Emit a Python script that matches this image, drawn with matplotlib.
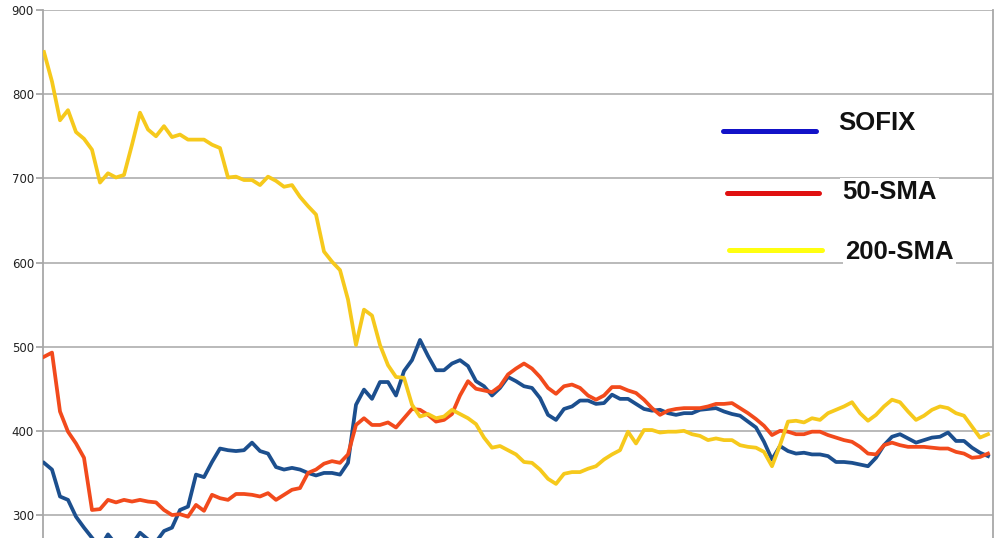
import matplotlib
matplotlib.use("Agg")
import matplotlib.pyplot as plt
from matplotlib.lines import Line2D

# ---- data (one sample per trading step) ----
sofix = [362, 354, 322, 318, 298, 285, 273, 261, 277, 265, 259, 265, 279, 271, 268, 281,
         285, 306, 310, 348, 345, 363, 379, 377, 376, 377, 386, 376, 373, 357, 354, 356,
         354, 350, 347, 350, 350, 348, 362, 431, 449, 438, 458, 458, 442, 471, 484, 508,
         489, 472, 472, 480, 484, 477, 459, 453, 442, 451, 464, 459, 453, 451, 439, 419,
         413, 426, 429, 436, 436, 432, 433, 443, 438, 438, 432, 426, 424, 425, 421, 419,
         421, 421, 425, 426, 427, 423, 420, 418, 411, 404, 387, 366, 382, 376, 373, 374,
         372, 372, 370, 363, 363, 362, 360, 358, 368, 383, 393, 396, 391, 386, 389, 392,
         393, 398, 388, 388, 380, 374, 370]

sma50 = [488, 493, 423, 399, 385, 368, 306, 307, 318, 315, 318, 316, 318, 316, 315, 306,
         300, 301, 298, 312, 305, 324, 320, 318, 325, 325, 324, 322, 326, 318, 324, 330,
         332, 350, 354, 361, 364, 362, 372, 407, 415, 407, 407, 410, 404, 415, 426, 425,
         419, 411, 413, 420, 442, 459, 450, 448, 446, 453, 467, 474, 480, 474, 464, 451,
         444, 453, 455, 451, 442, 437, 442, 452, 452, 448, 445, 437, 427, 419, 424, 426,
         427, 427, 427, 429, 432, 432, 433, 427, 421, 414, 406, 395, 400, 399, 396, 396,
         399, 399, 395, 392, 389, 387, 381, 373, 372, 383, 386, 383, 381, 381, 381, 380,
         379, 379, 375, 373, 368, 369, 373]

sma200 = [850, 815, 769, 781, 755, 747, 734, 695, 706, 701, 704, 740, 778, 758, 750, 762,
          749, 752, 746, 746, 746, 740, 736, 701, 702, 698, 698, 692, 702, 697, 690, 692,
          678, 667, 657, 613, 601, 591, 556, 502, 544, 537, 502, 478, 464, 463, 431, 417,
          420, 415, 417, 425, 420, 415, 408, 392, 380, 382, 377, 372, 363, 362, 354, 343,
          337, 349, 351, 351, 355, 358, 366, 372, 377, 399, 385, 401, 401, 398, 399, 399,
          400, 396, 394, 389, 391, 389, 389, 383, 381, 380, 375, 358, 383, 411, 412, 410,
          415, 413, 421, 425, 429, 434, 421, 412, 419, 429, 437, 434, 423, 413, 418, 425,
          429, 427, 421, 418, 405, 392, 396]

series_names = ["SOFIX", "50-SMA", "200-SMA"]
y_ticks = [300, 400, 500, 600, 700, 800, 900]

# ---- figure ----
W, H = 1001, 538
fig = plt.figure(figsize=(W / 100, H / 100), dpi=100)
fig.patch.set_facecolor("white")
ax = fig.add_axes([43 / W, 0.0, (993 - 43) / W, 1 - 10 / H])

days = list(range(len(sofix)))
ax.plot(days, sofix, color="#1c4f8e", lw=2.7, solid_joinstyle="round", zorder=3)
ax.plot(days, sma50, color="#f24a1c", lw=2.7, solid_joinstyle="round", zorder=4)
ax.plot(days, sma200, color="#f6c91c", lw=2.7, solid_joinstyle="round", zorder=5)

ax.set_xlim(-0.125, len(sofix) - 1 + 0.625)
ax.set_ylim(272.7, 900)
ax.set_yticks(y_ticks)
ax.set_xticks([])
ax.yaxis.grid(True, color="#b4b4b4", lw=1.3)
ax.set_axisbelow(True)
for s in ["top", "bottom"]:
    ax.spines[s].set_visible(False)
for s in ["left", "right"]:
    ax.spines[s].set_color("#a8a8a8")
    ax.spines[s].set_linewidth(1.3)
ax.tick_params(axis="y", length=5, width=1.3, color="#a8a8a8", pad=1.5,
               labelsize=8.5, labelcolor="#222222")
for lab in ax.get_yticklabels():
    lab.set_family("DejaVu Sans")

# ---- hand-placed legend (as in the reference) ----
def fx(px):
    return px / W

def fy(py):
    return 1 - py / H

legend_colors = ["#1212c8", "#e01010", "#ffff10"]
legend_line_x = [(723, 816), (727, 819), (729, 822)]
legend_line_y = [131, 193, 250]
legend_text_xy = [(838, 123), (842, 192), (845, 252)]
for name, col, (x0, x1), ly, (tx, ty) in zip(series_names, legend_colors,
                                                legend_line_x, legend_line_y, legend_text_xy):
    fig.add_artist(Line2D([fx(x0), fx(x1)], [fy(ly), fy(ly)], transform=fig.transFigure,
                          color=col, lw=3.6, solid_capstyle="round", zorder=10))
    fig.text(fx(tx), fy(ty), name, fontsize=18.5, fontweight="bold", family="Liberation Sans",
             color="#111111", va="center", ha="left", zorder=11,
             bbox=dict(facecolor="white", edgecolor="none", pad=1.5))

fig.savefig("out.png", dpi=100, facecolor="white")
